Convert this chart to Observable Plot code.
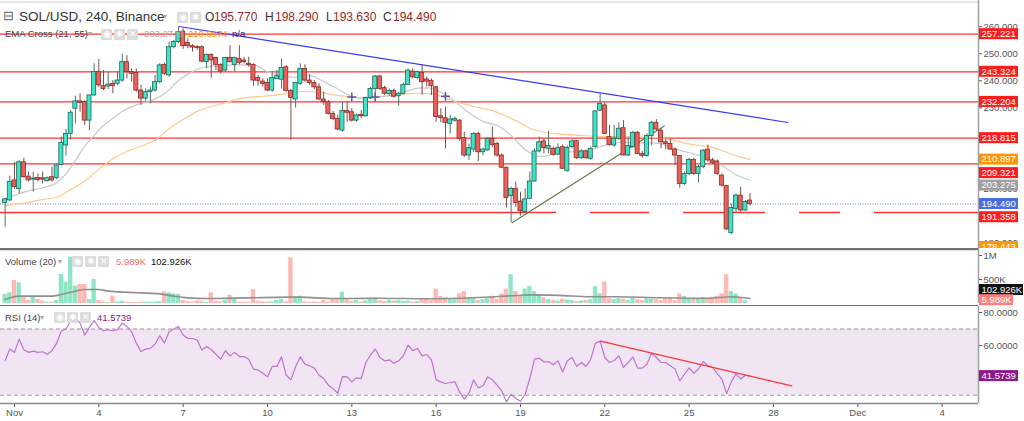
<!DOCTYPE html>
<html><head><meta charset="utf-8">
<script src="https://cdn.jsdelivr.net/npm/d3@7"></script>
<script src="https://cdn.jsdelivr.net/npm/@observablehq/plot@0.6"></script>
<style>
body{margin:0;background:#fff;font-family:"Liberation Sans",Arial,sans-serif;}
#wrap{position:relative;width:1024px;height:421px;overflow:hidden;background:#fff;}
.panel{position:absolute;left:0;}
.lbl{position:absolute;white-space:nowrap;line-height:1;}
.ico{position:absolute;width:11px;height:11px;background:#dcdcdc;border-radius:1px;color:#fff;font-size:9px;text-align:center;line-height:11px;}
</style></head><body><div id="wrap"></div>
<script>
// ---------- DATA ----------
const firstCandleUTC = Date.UTC(2021, 9, 31, 16); // Oct 31 16:00, 4h candles
const opens = [194.9,195.8,203.2,200.1,209.9,204.6,203.5,204.1,204.0,202.9,204.4,204.0,208.9,216.1,220.4,229.7,232.4,232.1,225.3,234.6,243.2,238.0,237.9,238.9,238.9,240.1,246.9,243.2,242.9,236.4,233.4,235.8,236.4,239.5,245.9,242.0,252.4,254.3,258.2,254.0,252.8,252.4,252.4,246.9,249.6,248.4,245.9,243.8,248.5,245.9,248.1,247.5,246.3,
245.9,241.0,239.7,239.2,236.4,240.7,240.4,245.0,236.3,233.1,238.9,244.4,240.1,239.2,237.6,233.1,232.1,227.8,225.9,221.6,228.9,228.4,225.3,227.4,226.9,233.6,237.0,241.6,237.3,235.1,236.3,234.3,235.2,238.5,243.4,241.0,242.9,240.5,240.0,237.6,226.9,226.2,224.1,225.3,225.3,218.8,212.4,214.6,220.4,213.6,214.3,218.6,
216.7,212.4,207.9,197.4,200.1,195.4,191.5,196.4,202.8,213.9,217.6,214.9,214.9,212.7,215.5,206.6,215.5,217.7,211.4,213.9,211.2,215.5,229.0,230.9,219.2,216.1,218.6,222.5,212.4,215.5,220.8,213.0,212.2,219.6,224.5,221.6,217.3,216.7,214.6,212.2,201.9,205.6,210.8,205.6,208.1,214.6,210.6,210.2,205.0,201.1,183.8,192.7,197.6,192.1,195.77];
const highs = [196.6,204.8,209.9,210.6,211.4,206.3,206.3,205.6,206.3,204.4,208.1,208.9,219.2,222.0,229.0,234.3,235.2,232.7,234.6,246.3,247.9,243.8,243.2,240.1,243.2,249.9,249.3,244.4,244.4,238.3,237.0,237.6,242.0,246.3,246.6,254.3,254.9,259.8,259.2,255.5,253.3,253.0,253.0,249.9,249.9,248.7,246.3,248.7,253.0,248.7,253.0,248.7,248.7,
246.3,242.0,240.7,240.7,243.2,243.8,248.1,245.7,236.8,239.5,246.3,245.9,242.3,240.1,238.9,235.8,232.7,228.7,227.4,232.1,232.4,229.7,227.8,229.0,234.0,237.6,242.0,242.0,238.0,237.0,237.0,235.8,239.2,244.4,244.4,243.6,245.9,241.3,240.7,238.0,229.7,230.3,227.2,226.6,225.7,221.0,216.7,220.8,221.0,215.1,219.0,222.9,
217.3,213.0,208.1,200.7,202.6,198.9,200.1,206.3,214.9,219.2,218.6,221.3,215.5,216.7,216.3,215.9,218.3,218.0,214.6,214.3,215.5,229.0,235.2,231.9,223.5,223.5,224.5,225.3,219.2,221.3,221.3,213.9,220.4,225.0,225.7,222.3,218.6,218.3,215.1,212.4,206.3,211.4,211.4,208.7,214.6,216.3,211.4,210.8,205.6,201.3,194.5,198.2,200.7,195.8,198.29];
const lows = [185.9,195.4,199.8,198.2,204.0,202.6,198.9,202.6,201.9,202.6,202.6,203.5,208.5,212.2,218.0,224.1,228.4,223.5,221.6,234.3,237.6,236.4,236.8,235.2,238.3,239.5,240.7,239.5,235.8,230.9,232.4,231.5,235.8,238.9,242.0,241.3,251.8,253.7,251.6,251.8,250.6,251.2,246.6,244.4,241.0,243.8,242.6,243.2,246.6,243.2,245.9,246.3,245.0,
238.0,238.0,237.7,236.0,235.8,240.5,237.0,235.8,218.0,229.9,238.3,239.5,238.3,236.8,232.7,230.9,227.4,225.3,221.6,221.0,224.7,224.7,224.7,226.0,226.6,233.1,233.9,236.4,234.6,234.3,233.6,230.6,234.8,238.3,240.7,240.5,234.6,237.7,234.6,224.7,224.5,214.9,220.4,224.7,217.6,211.8,210.6,213.6,210.2,212.4,213.9,215.5,
211.8,207.5,193.0,187.6,193.3,190.0,190.9,196.2,202.6,213.4,213.0,213.0,212.2,212.4,207.2,206.3,214.9,210.9,211.0,211.0,210.6,215.1,228.7,220.0,215.9,215.5,218.0,212.2,212.0,215.1,212.7,211.4,211.8,216.1,221.3,214.9,214.6,214.3,208.7,200.3,201.3,205.0,205.0,202.3,207.5,209.9,209.0,205.0,200.7,184.7,183.1,190.9,191.5,191.7,193.63];
const closes = [196.2,202.6,200.7,209.9,204.4,203.2,203.9,203.4,203.5,204.0,203.2,208.7,217.1,220.4,228.2,232.4,231.9,225.3,234.6,243.2,238.3,237.0,238.6,238.0,240.1,246.9,243.2,242.6,236.4,233.4,235.8,236.4,239.5,245.7,242.6,252.4,254.3,258.0,252.8,252.8,252.3,252.1,247.1,249.6,247.5,245.9,243.4,248.4,246.9,248.4,246.6,246.9,245.9,
240.1,240.0,238.8,236.4,241.0,241.7,244.7,236.3,233.7,239.2,244.4,240.1,239.2,237.6,233.1,232.1,227.8,225.9,222.0,228.9,228.2,225.3,227.2,226.9,233.6,237.0,241.6,237.0,235.2,236.3,234.1,235.2,238.5,243.8,241.3,243.2,239.5,239.7,238.0,226.6,226.2,224.5,225.7,225.9,218.6,212.4,215.1,220.4,213.6,214.6,218.6,216.3,
212.4,207.9,196.7,200.1,194.9,191.8,196.2,202.8,213.9,217.3,215.1,215.9,212.7,215.1,207.5,215.2,217.6,211.4,213.9,211.4,214.9,228.7,231.5,220.4,216.3,218.6,222.3,212.4,215.9,220.8,213.0,212.2,219.6,224.5,222.0,217.3,216.7,214.6,212.4,201.9,205.6,210.8,205.6,208.1,214.2,210.6,209.7,205.6,201.3,185.1,193.0,197.6,192.1,195.2,194.49];
const volumesK = [187,222,479,430,132,62,132,83,49,28,28,62,604,444,
965,361,396,396,83,500,62,
35,20,153,35,49,28,20,20,25,30,25,30,40,
243,222,201,187,62,42,28,49,49,20,222,49,35,62,
173,83,28,20,28,291,49,35,28,35,62,83,35,
950,132,153,35,20,28,20,62,28,104,76,236,104,
40,60,30,50,80,120,60,40,70,50,
60,40,50,30,40,80,100,60,300,150,120,90,
80,200,250,120,100,60,80,100,150,90,200,300,
600,250,150,300,350,250,180,120,
80,60,50,90,70,60,40,50,60,80,350,200,
450,100,80,100,90,60,120,80,60,100,90,80,60,
100,120,60,200,150,100,80,90,120,100,130,150,200,600,250,200,100,60,6];
const volMAIdx = [0,3,10,12,15,17,20,22,29,33,36,39,43,61,63,70,73,80,90,100,108,112,118,125,130,140,150,155,159];
const volMAK   = [83,153,153,187,257,291,291,257,222,201,153,118,104,132,132,104,104,110,100,120,160,180,170,140,140,120,110,140,102.926];
const rsi = [50.8,57.9,55.9,63.9,57.5,55.9,56.7,55.9,56.3,54.8,
56.9,61.5,69.0,70.0,75.0,76.5,73.6,66.4,71.0,75.1,
71.0,69.0,69.6,69.0,69.6,73.6,71.6,68.4,61.5,56.3,
57.9,58.3,60.9,66.0,61.5,68.4,70.0,71.6,66.4,64.3,
64.3,63.3,57.3,59.5,57.5,54.8,51.8,56.9,53.8,55.9,
53.4,53.4,51.8,45.8,45.2,43.3,41.1,47.4,47.4,53.2,
42.1,39.3,47.2,53.2,48.8,47.8,46.4,42.1,40.1,36.1,
34.0,31.2,41.3,41.1,38.1,40.5,40.1,49.8,54.4,57.9,
52.8,50.8,51.4,49.4,50.8,53.8,60.3,56.9,58.3,53.8,
54.6,51.4,39.3,38.1,37.1,37.7,38.1,32.0,27.6,31.2,
39.3,34.4,35.7,41.1,39.3,36.1,32.6,26.0,30.6,28.0,
26.4,30.6,40.1,51.8,52.4,50.2,50.2,48.4,50.8,44.1,
50.8,52.8,47.4,49.8,47.4,51.8,61.5,62.7,52.8,49.8,
51.0,53.8,46.8,49.8,53.2,46.4,46.4,48.8,55.5,52.8,
49.8,49.8,47.8,45.8,38.7,42.7,46.6,43.3,45.8,50.4,
47.8,46.8,43.1,39.7,31.0,38.1,43.1,39.7,42.1,41.5739];
const ema21Idx = [0,4,8,11,13,15,17,19,21,23,25,28,31,34,37,40,43,46,49,53,56,59,62,65,68,71,74,77,80,83,86,89,91,93,96,99,102,105,108,111,114,117,120,123,126,129,132,135,138,141,144,147,150,153,156,159];
const ema21Val = [196.4,198.9,200.5,202.3,205.6,210.6,215.9,219.8,223.5,226.2,228.7,231.1,232.6,235.2,240.1,243.4,245.2,245.5,245.9,245.8,243.4,241.9,241.3,241.9,239.7,237.0,234.2,233.3,234.2,234.6,236.4,237.4,237.3,235.8,232.4,228.2,225.0,223.5,219.8,214.6,212.0,212.8,213.6,214.1,215.1,216.6,217.3,217.1,217.1,216.3,214.3,213.0,211.5,208.7,205.3,203.275];
const ema55Idx = [0,4,8,11,14,17,20,23,26,29,32,35,38,41,44,47,50,52,55,58,61,64,67,70,73,76,79,82,85,88,91,94,97,100,104,106,109,112,115,118,121,124,127,130,133,136,139,142,145,148,151,154,157,159];
const ema55Val = [193.9,194.8,196.1,197.0,199.8,203.0,207.2,211.2,213.9,215.9,218.0,222.3,225.7,228.7,230.5,231.9,233.3,233.9,234.3,234.8,235.6,236.05,235.8,234.8,234.2,233.7,233.9,234.6,235.1,235.4,235.3,233.6,231.9,230.5,229.0,227.7,225.3,222.5,221.0,220.4,220.0,219.7,219.5,219.4,219.2,219.2,219.0,218.3,217.0,216.1,215.4,213.6,211.8,210.897];
const crossIdx = [74, 79, 94];
const crossVal = [234.0, 234.0, 234.3];
const resistanceLevels = [257.221, 243.324, 232.204, 218.815, 209.321];
const supportLevel = 191.358;
const lastPrice = 194.490;
const blueTrendIdx = [37.1, 167.1], blueTrendVal = [260.06, 224.6];
const greenTrendIdx = [108.2, 140.7], greenTrendVal = [187.6, 223.3];
const rsiTrendIdx = [127.1, 167.9], rsiTrendVal = [62.7, 35.7];
const priceTicks = [180,200,230,240,250,260];
const priceTags = [
  {text:"257.221", pos:257.221, bg:"#ff1c1c"},
  {text:"243.324", pos:243.324, bg:"#ff1c1c"},
  {text:"232.204", pos:232.204, bg:"#ff1c1c"},
  {text:"218.815", pos:218.815, bg:"#ff1c1c"},
  {text:"210.897", pos:210.897, bg:"#ff9800"},
  {text:"209.321", pos:205.9, bg:"#ff1c1c"},
  {text:"203.275", pos:201.3, bg:"#a0a0a0"},
  {text:"194.490", pos:194.49, bg:"#4a6ee0"},
  {text:"191.358", pos:189.6, bg:"#ff1c1c"},
  {text:"178.443", pos:178.6, bg:"#ff9800"}
];
const volTags = [{text:"102.926K", pos:281000, bg:"#111"}, {text:"5.989K", pos:69000, bg:"#ff7f7f"}];
const rsiTags = [{text:"41.5739", pos:41.5739, bg:"#8b1a8b"}];
const xTickDates = [[2021,10,1],[2021,10,4],[2021,10,7],[2021,10,10],[2021,10,13],[2021,10,16],[2021,10,19],[2021,10,22],[2021,10,25],[2021,10,28],[2021,11,1],[2021,11,4]];
const xTickLabels = ["Nov","4","7","10","13","16","19","22","25","28","Dec","4"];

// ---------- BUILD ----------
const H4 = 4*3600e3;
const tAt = i => new Date(firstCandleUTC + i*H4);
const xDomain = [new Date(Date.UTC(2021,9,31,12,3)), new Date(Date.UTC(2021,11,5,7,3))];
const candles = opens.map((o,i)=>({t:tAt(i), o, h:highs[i], l:lows[i], c:closes[i], up: closes[i] >= o, v: volumesK[i]*1000}));
const half = 1.75*3600e3;
const pairs = (ix, vs) => ix.map((i,k)=>({t:tAt(i), v:vs[k]}));
const FONT = "Liberation Sans, Arial, sans-serif";

function tags(items, fs){
  return (index, scales, values, dims) => {
    const g = d3.create("svg:g").attr("font-family", FONT).attr("font-size", fs||9.5).attr("text-anchor","start");
    const x0 = dims.width - dims.marginRight + 1;
    for (const it of items){
      const y = scales.y(it.pos);
      const w = it.text.length*5.0 + 4;
      g.append("rect").attr("x", x0).attr("y", y-5.5).attr("width", w).attr("height", 11).attr("fill", it.bg);
      g.append("text").attr("x", x0+2.5).attr("y", y).attr("dy","0.35em").attr("text-anchor","start").attr("fill","#fff").text(it.text);
    }
    return g.node();
  };
}

const wrap = document.getElementById("wrap");
function place(el, top){ el.classList.add("panel"); el.style.top = top+"px"; wrap.appendChild(el); }

const yMain = [178.05, 269.67];
const main = Plot.plot({
  width:1024, height:248, marginLeft:0, marginRight:46, marginTop:0, marginBottom:0,
  style:{fontFamily:FONT, fontSize:"9.5px", color:"#555", background:"transparent"},
  x:{type:"utc", domain:xDomain, axis:null},
  y:{domain:yMain, axis:"right", ticks:priceTicks, tickFormat:d=>d.toFixed(3), tickSize:3, tickPadding:2, label:null},
  marks:[
    Plot.ruleY([yMain[1]], {stroke:"#d0d0d0", dy:1.5}),
    Plot.ruleY(resistanceLevels, {stroke:"#ff3030", strokeWidth:1.3}),
    Plot.ruleY([supportLevel], {stroke:"#ff3030", strokeWidth:1.3, strokeDasharray:"556 34 59 34 82 34 41 34 300"}),
    Plot.ruleY([lastPrice], {stroke:"#5b7fe6", strokeWidth:1, strokeDasharray:"1 1.5"}),
    Plot.line(pairs(ema55Idx, ema55Val), {x:"t", y:"v", stroke:"#ffc98a", strokeWidth:1.2, curve:"monotone-x"}),
    Plot.line(pairs(ema21Idx, ema21Val), {x:"t", y:"v", stroke:"#c9c9c9", strokeWidth:1.2, curve:"monotone-x"}),
    Plot.line(pairs(blueTrendIdx, blueTrendVal), {x:"t", y:"v", stroke:"#3b3bf0", strokeWidth:1.2}),
    Plot.line(pairs(greenTrendIdx, greenTrendVal), {x:"t", y:"v", stroke:"#5e7f45", strokeWidth:1.2}),
    Plot.ruleX(candles, {x:"t", y1:"l", y2:"h", stroke:d=>d.up?"#4d7464":"#7d4e48", strokeWidth:1}),
    Plot.rect(candles, {x1:d=>new Date(+d.t-half), x2:d=>new Date(+d.t+half), y1:"o", y2:d=>Math.abs(d.c-d.o)<0.3?d.o+0.35:d.c,
      fill:d=>d.up?"#3fe3c7":"#e8615a", stroke:d=>d.up?"#1f6656":"#8c2d27", strokeWidth:0.8}),
    Plot.dot(pairs(crossIdx, crossVal), {x:"t", y:"v", symbol:"plus", r:3, stroke:"#5a5aa8", strokeWidth:1.5}),
    Plot.ruleX([xDomain[1]], {stroke:"#a0a0a0", strokeWidth:1.5}),
    tags(priceTags)
  ]
});
place(main, 0);

const volMax = 1145800;
const vol = Plot.plot({
  width:1024, height:58, marginLeft:0, marginRight:46, marginTop:0, marginBottom:3,
  style:{fontFamily:FONT, fontSize:"9.5px", color:"#555", background:"transparent"},
  x:{type:"utc", domain:xDomain, axis:null},
  y:{domain:[0, volMax], axis:"right", ticks:[500000,1000000], tickFormat:d=>d>=1e6?"1M":"500K", tickSize:3, tickPadding:2, label:null},
  marks:[
    Plot.rect(candles, {x1:d=>new Date(+d.t-1.85*3600e3), x2:d=>new Date(+d.t+1.85*3600e3), y1:0, y2:"v",
      fill:d=>d.up?"#8fe6c5":"#ffb8b4"}),
    Plot.line(volMAIdx.map((i,k)=>({t:tAt(i), v:volMAK[k]*1000})), {x:"t", y:"v", stroke:"#909090", strokeWidth:1.6, curve:"monotone-x"}),
    Plot.ruleY([volMax], {stroke:"#707070", strokeWidth:2.5, dy:0.5}),
    Plot.ruleY([0], {stroke:"#707070", strokeWidth:2, dy:2.5}),
    Plot.ruleX([xDomain[1]], {stroke:"#a0a0a0", strokeWidth:1.5}),
    tags(volTags)
  ]
});
place(vol, 248);

const yR = [25.02, 83.63];
const labelMap = new Map(xTickDates.map((d,k)=>[Date.UTC(d[0],d[1],d[2]), xTickLabels[k]]));
const rsiPlot = Plot.plot({
  width:1024, height:115, marginLeft:0, marginRight:46, marginTop:0, marginBottom:18,
  style:{fontFamily:FONT, fontSize:"9.5px", color:"#555", background:"transparent"},
  x:{type:"utc", domain:xDomain, ticks:xTickDates.map(d=>new Date(Date.UTC(d[0],d[1],d[2]))), tickFormat:d=>labelMap.get(+d), tickSize:4, tickPadding:2, label:null},
  y:{domain:yR, axis:"right", ticks:[60,80], tickFormat:d=>d.toFixed(4), tickSize:3, tickPadding:2, label:null},
  marks:[
    Plot.rect([{}], {x1:xDomain[0], x2:xDomain[1], y1:30, y2:70, fill:"#f1e5f3"}),
    Plot.ruleY([30,70], {stroke:"#9a9a9a", strokeDasharray:"4 3"}),
    Plot.line(rsi.map((v,i)=>({t:tAt(i), v})), {x:"t", y:"v", stroke:"#bd74cf", strokeWidth:1.2}),
    Plot.line(pairs(rsiTrendIdx, rsiTrendVal), {x:"t", y:"v", stroke:"#ff3333", strokeWidth:1.3}),
    Plot.ruleY([yR[0]], {stroke:"#8a8a8a", strokeWidth:1.5}),
    Plot.ruleX([xDomain[1]], {stroke:"#a0a0a0", strokeWidth:1.5}),
    tags(rsiTags)
  ]
});
place(rsiPlot, 306);

// ---------- legends (text overlays) ----------
function lbl(text, left, top, size, color, extra){
  const d = document.createElement("div"); d.className="lbl"; d.textContent=text;
  d.style.left=left+"px"; d.style.top=top+"px"; d.style.fontSize=size+"px"; d.style.color=color;
  if (extra) Object.assign(d.style, extra);
  wrap.appendChild(d); return d;
}
function ico(left, top, ch){ const d=document.createElement("div"); d.className="ico"; d.textContent=ch; d.style.left=left+"px"; d.style.top=top+"px"; wrap.appendChild(d); }
lbl("⊟", 3, 9, 13, "#666");
lbl("SOL/USD, 240, Binance", 19, 10, 13.5, "#333");
lbl("▾", 163, 13, 8, "#aaa");
ico(177, 12, "◉"); ico(190, 12, "✱");
lbl("O", 205, 11, 12, "#333"); lbl("195.770", 214, 11, 12, "#8f2a2a");
lbl("H", 265, 11, 12, "#333"); lbl("198.290", 275, 11, 12, "#8f2a2a");
lbl("L", 326, 11, 12, "#333"); lbl("193.630", 333, 11, 12, "#8f2a2a");
lbl("C", 383, 11, 12, "#333"); lbl("194.490", 393, 11, 12, "#8f2a2a");
lbl("EMA Cross (21, 55)", 5, 29, 9.5, "#444");
lbl("▾", 88, 30, 8, "#aaa");
ico(101, 29, "◉"); ico(114, 29, "✱"); ico(127, 29, "✕");
lbl("203.2748", 144, 29, 9.5, "#aaaaaa");
lbl("210.8974", 188, 29, 9.5, "#ff9800");
lbl("n/a", 232, 29, 9.5, "#20208a");
lbl("Volume (20)", 5, 257, 9.5, "#444");
lbl("▾", 58, 258, 8, "#aaa");
ico(72, 256, "◉"); ico(85, 256, "✱"); ico(98, 256, "✕");
lbl("5.989K", 116, 257, 9.5, "#ff6b6b");
lbl("102.926K", 151, 257, 9.5, "#111");
lbl("RSI (14)", 5, 313, 9.5, "#444");
lbl("▾", 40, 314, 8, "#aaa");
ico(54, 312, "◉"); ico(67, 312, "✱"); ico(80, 312, "✕");
lbl("41.5739", 97, 313, 9.5, "#8b1a8b");
</script>
</body></html>
